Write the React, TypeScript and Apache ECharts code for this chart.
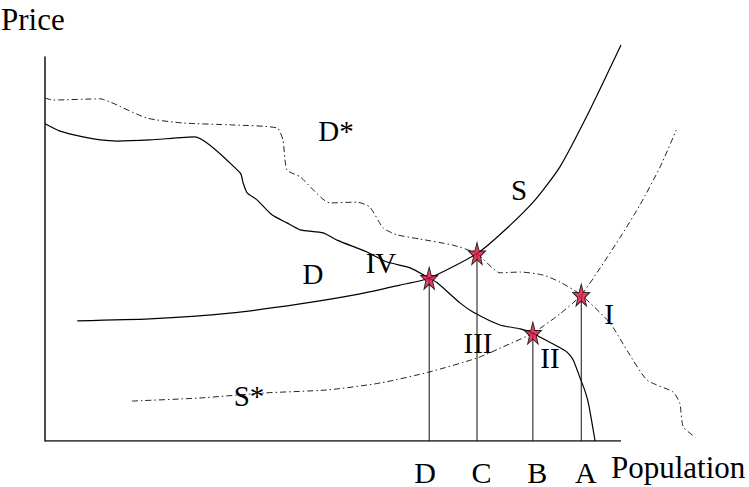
import { useEffect, useRef } from "react";
import * as echarts from "echarts";

// Equilibrium points where the curves cross (population, price)
const POINT_LABELS = ["D", "C", "B", "A"];
const POINT_X = [66.7, 75.0, 84.7, 93.1];
const POINT_Y = [42.4, 48.8, 28.1, 38.0];

// Supply curve S
const S_CURVE: [number, number][] = [
  [5.6, 31.3], [18.2, 31.8], [32.1, 33.3], [44.3, 35.7], [54.7, 38.3],
  [61.6, 40.6], [66.7, 42.4], [75.0, 48.8], [79.9, 55.0], [85.1, 62.8],
  [89.4, 71.4], [94.6, 86.2], [100.0, 103.1],
];

// Shifted supply curve S*
const S_STAR_CURVE: [number, number][] = [
  [15.1, 10.4], [26.9, 11.2], [37.9, 12.5], [49.0, 13.3], [58.2, 15.1],
  [66.8, 18.0], [75.0, 21.6], [79.5, 24.5], [84.7, 28.1], [89.4, 33.1],
  [93.1, 38.0], [96.4, 45.1], [99.8, 52.9], [103.3, 61.5], [106.8, 71.4],
  [109.6, 81.0],
];

// Demand curve D
const D_CURVE: [number, number][] = [
  [0, 82.6], [2.6, 80.7], [6.6, 79.2], [9.6, 78.4], [12.5, 78.1],
  [18.2, 78.4], [26.0, 79.2], [33.9, 69.8], [34.4, 67.2], [35.1, 64.6],
  [36.8, 62.8], [39.4, 58.9], [42.0, 56.8], [44.3, 55.0], [48.3, 54.2],
  [50.7, 52.3], [55.9, 49.2], [59.4, 46.6], [63.4, 45.1], [66.7, 42.4],
  [68.1, 41.2], [72.1, 35.9], [74.3, 33.6], [79.0, 30.2], [82.5, 29.2],
  [84.7, 28.1], [85.9, 27.1], [90.6, 23.2], [91.7, 21.1], [92.9, 16.4],
  [93.8, 12.8], [94.4, 9.4], [95.5, 0],
];

// Shifted demand curve D*
const D_STAR_CURVE: [number, number][] = [
  [0, 89.3], [1.4, 88.8], [9.6, 89.1], [11.3, 88.3], [17.7, 84.1],
  [24.0, 82.8], [32.6, 82.3], [40.3, 81.5], [41.3, 78.4], [42.0, 70.6],
  [44.3, 68.8], [49.5, 62.0], [54.2, 62.2], [56.4, 60.9], [58.7, 55.5],
  [61.1, 53.7], [65.1, 52.6], [70.8, 51.0], [75.0, 48.8], [79.0, 43.8],
  [82.5, 44.0], [86.5, 43.2], [89.4, 41.4], [93.1, 38.0], [98.1, 30.7],
  [101.0, 23.7], [104.5, 15.9], [109.0, 12.8], [110.2, 9.9], [110.8, 3.7],
  [112.9, 1.0],
];

// Drawn extent of the population axis line
const AXIS_X_END = 100;
// The plotting area runs a little past the axis line so the shifted curves fit
const X_VIEW_MAX = 115;

const SERIF = "'Liberation Serif', 'Times New Roman', serif";
const STAR =
  "path://M10 0 L12.35 6.76 L19.51 6.91 L13.8 11.24 L15.88 18.09 L10 14 L4.12 18.09 L6.2 11.24 L0.49 6.91 L7.65 6.76 Z";

const solid = { color: "#000", width: 1.2 };
const dashDot = { color: "#222", width: 1, type: [6, 3, 1.5, 3] as number[] };

function curve(name: string, data: [number, number][], lineStyle: object) {
  return {
    name,
    type: "line",
    data,
    smooth: 0.2,
    symbol: "none",
    clip: false,
    silent: true,
    lineStyle,
    z: 2,
  };
}

function text(t: string, x: number, y: number, size = 29, align = "center") {
  return {
    type: "text",
    x,
    y,
    silent: true,
    style: {
      text: t,
      fill: "#000",
      font: `${size}px ${SERIF}`,
      textAlign: align,
      textVerticalAlign: "middle",
    },
  };
}

export default function App() {
  const ref = useRef<HTMLDivElement>(null);

  useEffect(() => {
    const chart = echarts.init(ref.current!, null, { renderer: "svg" });

    const drops = POINT_X.map((x, i) => ({
      name: `drop-${POINT_LABELS[i]}`,
      type: "line",
      data: [
        [x, 0],
        [x, POINT_Y[i]],
      ],
      symbol: "none",
      silent: true,
      lineStyle: { color: "#111", width: 1 },
      z: 1,
    }));

    chart.setOption({
      animation: false,
      backgroundColor: "#fff",
      grid: {
        left: 45,
        top: 57,
        width: 576 * (X_VIEW_MAX / AXIS_X_END),
        height: 384,
        outerBoundsMode: "none",
      },
      xAxis: {
        type: "value",
        min: 0,
        max: X_VIEW_MAX,
        axisLine: { show: false },
        axisTick: { show: false },
        splitLine: { show: false },
        axisLabel: {
          customValues: POINT_X,
          formatter: (v: number) => {
            const i = POINT_X.findIndex((p) => Math.abs(p - v) < 1e-6);
            if (i < 0) return "";
            return i === 0 ? `{l|${POINT_LABELS[i]}}` : `{r|${POINT_LABELS[i]}}`;
          },
          rich: {
            l: { fontFamily: SERIF, fontSize: 30, color: "#000", padding: [0, 8, 0, 0] },
            r: { fontFamily: SERIF, fontSize: 30, color: "#000", padding: [0, 0, 0, 9] },
          },
          fontFamily: SERIF,
          fontSize: 30,
          color: "#000",
          margin: 31,
          verticalAlign: "middle",
        },
      },
      yAxis: {
        type: "value",
        min: 0,
        max: 100,
        axisLine: { show: true, lineStyle: { color: "#111", width: 1.5 } },
        axisTick: { show: false },
        splitLine: { show: false },
        axisLabel: { show: false },
      },
      graphic: [
        text("Price", 1, 19, 31, "left"),
        text("Population", 611, 467, 31, "left"),
        text("D*", 336, 131),
        text("S", 519, 190),
        text("D", 313, 274),
        text("IV", 381, 263),
        text("III", 478, 343),
        text("II", 550, 358),
        text("I", 609, 314),
        text("S*", 249, 396),
      ],
      series: [
        {
          name: "population-axis",
          type: "line",
          data: [
            [0, 0],
            [AXIS_X_END, 0],
          ],
          symbol: "none",
          silent: true,
          lineStyle: { color: "#111", width: 1.5 },
          z: 1,
        },
        ...drops,
        curve("S", S_CURVE, solid),
        curve("S*", S_STAR_CURVE, dashDot),
        curve("D", D_CURVE, solid),
        curve("D*", D_STAR_CURVE, dashDot),
        {
          name: "equilibrium",
          type: "scatter",
          data: POINT_X.map((x, i) => [x, POINT_Y[i]]),
          symbol: STAR,
          symbolSize: [17, 22],
          silent: true,
          itemStyle: { color: "#d5133d", borderColor: "#000", borderWidth: 1 },
          z: 5,
        },
      ],
    });

    return () => chart.dispose();
  }, []);

  return (
    <div
      ref={ref}
      style={{ position: "absolute", left: 0, top: 0, width: 749, height: 487 }}
    />
  );
}
